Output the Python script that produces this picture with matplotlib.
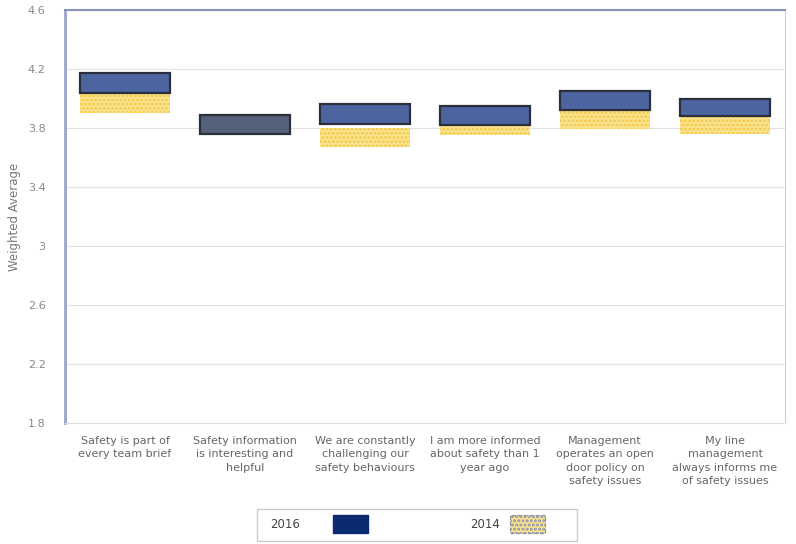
import numpy as np
import matplotlib
matplotlib.use("Agg")
import matplotlib.pyplot as plt
import matplotlib.patches as patches

# categories and floating ranges
categories = ["Safety is part of\nevery team brief",
              "Safety information\nis interesting and\nhelpful",
              "We are constantly\nchallenging our\nsafety behaviours",
              "I am more informed\nabout safety than 1\nyear ago",
              "Management\noperates an open\ndoor policy on\nsafety issues",
              "My line\nmanagement\nalways informs me\nof safety issues"]
low_2016 = [4.04, 3.76, 3.83, 3.82, 3.92, 3.88]
high_2016 = [4.17, 3.89, 3.96, 3.95, 4.05, 4.00]
low_2014 = [3.90, 3.76, 3.67, 3.75, 3.79, 3.76]
high_2014 = [4.04, 3.89, 3.80, 3.82, 3.92, 3.88]
yticks = [1.8, 2.2, 2.6, 3, 3.4, 3.8, 4.2, 4.6]
ytick_labels = ["1.8", "2.2", "2.6", "3", "3.4", "3.8", "4.2", "4.6"]

plt.rcParams['hatch.linewidth'] = 1.5

fig = plt.figure(figsize=(7.96, 5.44), dpi=100)
ax = fig.add_axes([0.0817, 0.2224, 0.9045, 0.7592])

x = np.arange(len(categories))
low_2016 = np.array(low_2016); high_2016 = np.array(high_2016)
low_2014 = np.array(low_2014); high_2014 = np.array(high_2014)

ax.bar(x, high_2014 - low_2014, bottom=low_2014, width=0.75,
       facecolor='#fce592', edgecolor='#f2c84a', linewidth=0, hatch='....', zorder=2)
# where the two years overlap fully the box shows darker
fill_2016 = ['#55607a' if (l == l4 and h == h4) else '#4c64a0'
             for l, h, l4, h4 in zip(low_2016, high_2016, low_2014, high_2014)]
ax.bar(x, high_2016 - low_2016, bottom=low_2016, width=0.75,
       color=fill_2016, edgecolor='#2b2f3c', linewidth=1.6, zorder=3)

ax.set_xlim(-0.5, len(categories) - 0.5)
ax.set_ylim(1.8, 4.6)
ax.set_yticks(yticks)
ax.set_yticklabels(ytick_labels)
ax.set_xticks(x)
ax.set_xticklabels(categories, fontsize=8, color='#666666', linespacing=1.45)
ax.tick_params(axis='x', length=0, pad=9)
ax.tick_params(axis='y', length=0, pad=14, labelsize=8, labelcolor='#888888')
ax.grid(axis='y', color='#e2e2e2', linewidth=0.8, zorder=0)
ax.set_axisbelow(True)
ax.set_ylabel("Weighted Average", fontsize=8.5, color='#777777', labelpad=5)

ax.spines['left'].set_color('#9aa3cc')
ax.spines['left'].set_linewidth(2)
ax.spines['top'].set_color('#8a92b8')
ax.spines['top'].set_linewidth(1.5)
ax.spines['right'].set_color('#c8cde0')
ax.spines['bottom'].set_color('#dddddd')

# legend box drawn by hand
W, H = 796.0, 544.0
fig.add_artist(patches.Rectangle((257 / W, (H - 541) / H), 320 / W, 32 / H,
                                 transform=fig.transFigure, facecolor='white',
                                 edgecolor='#cccccc', linewidth=1))
fig.text(270 / W, (H - 524) / H, "2016", fontsize=8.5, color='#444444', va='center')
fig.add_artist(patches.Rectangle((333 / W, (H - 533) / H), 35 / W, 18 / H,
                                 transform=fig.transFigure, facecolor='#0b2a6f',
                                 edgecolor='#0b2a6f'))
fig.text(470 / W, (H - 524) / H, "2014", fontsize=8.5, color='#444444', va='center')
fig.add_artist(patches.Rectangle((510 / W, (H - 533) / H), 35 / W, 18 / H,
                                 transform=fig.transFigure, facecolor='#fce592',
                                 edgecolor='#8a8fa8', linestyle='--', linewidth=0.8,
                                 hatch='....'))

fig.savefig("out.png", dpi=100)
